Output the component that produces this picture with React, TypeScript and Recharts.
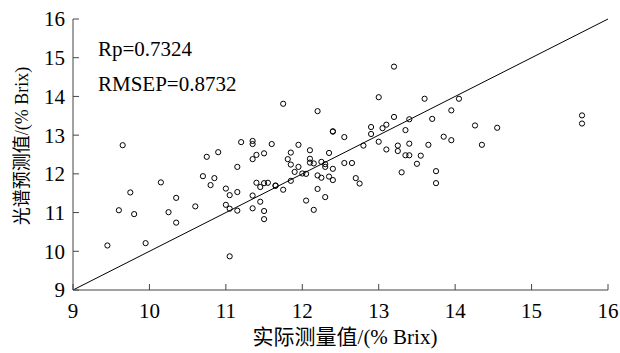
import React from 'react';
import { ScatterChart, Scatter, XAxis, YAxis, ReferenceLine } from 'recharts';

const measured: number[] = [
  9.65, 9.45, 9.6, 9.75, 9.8, 9.95, 10.15, 10.25, 10.35, 10.35,
  10.6, 10.7, 10.75, 10.8, 10.85, 10.9, 11.0, 11.0, 11.05, 11.05,
  11.05, 11.15, 11.15, 11.15, 11.2, 11.35, 11.35, 11.35, 11.4, 11.35,
  11.4, 11.35, 11.45, 11.45, 11.6, 11.95, 11.5, 11.85, 12.1, 12.35,
  12.8, 13.0, 13.1, 13.25, 13.25, 13.4, 13.65, 13.35, 13.4, 13.55,
  13.5, 13.3, 13.75, 13.75, 11.81, 11.85, 11.95, 11.9, 12.0, 12.05,
  12.1, 12.1, 12.15, 12.25, 12.3, 12.3, 12.4, 12.55, 12.65, 12.2,
  12.25, 12.35, 12.4, 12.7, 12.75, 11.5, 11.55, 11.65, 11.65, 11.75,
  11.85, 12.2, 11.5, 11.5, 12.05, 12.15, 12.3, 11.75, 12.2, 12.4,
  12.4, 12.55, 12.9, 12.9, 13.0, 13.05, 13.1, 13.2, 13.2, 13.35,
  13.4, 13.6, 13.7, 14.05, 13.95, 14.26, 14.55, 15.66, 15.66, 13.85,
  13.95, 14.35,
];

const predicted: number[] = [
  12.74, 10.15, 11.06, 11.52, 10.96, 10.21, 11.78, 11.01, 11.38, 10.74,
  11.16, 11.94, 12.44, 11.71, 11.89, 12.56, 11.62, 11.2, 11.45, 11.1,
  9.87, 12.18, 11.53, 11.05, 12.82, 12.85, 12.77, 12.38, 12.49, 11.44,
  11.77, 11.11, 11.66, 11.28, 12.77, 12.75, 12.53, 12.55, 12.61, 12.54,
  12.73, 12.83, 12.63, 12.73, 12.59, 12.78, 12.75, 12.48, 12.48, 12.47,
  12.26, 12.04, 12.07, 11.76, 12.38, 12.24, 12.18, 12.05, 12.01, 12.0,
  12.39, 12.29, 12.27, 12.31, 12.25, 12.18, 12.13, 12.28, 12.28, 11.96,
  11.9, 11.93, 11.84, 11.89, 11.75, 11.76, 11.77, 11.69, 11.7, 11.59,
  11.82, 11.61, 11.04, 10.83, 11.31, 11.07, 11.4, 13.81, 13.62, 13.09,
  13.1, 12.95, 13.21, 13.03, 13.98, 13.18, 13.27, 14.77, 13.47, 13.13,
  13.41, 13.94, 13.42, 13.94, 13.64, 13.25, 13.19, 13.51, 13.3, 12.96,
  12.87, 12.75,
];

const axisTicks: number[] = [9, 10, 11, 12, 13, 14, 15, 16];
const xTitle = '实际测量值/(% Brix)';
const yTitle = '光谱预测值/(% Brix)';
const rpText = 'Rp=0.7324';
const rmsepText = 'RMSEP=0.8732';

const data = measured.map((m, i) => ({ x: m, y: predicted[i] }));

const FONT = '"Liberation Serif", "Times New Roman", "Noto Sans CJK SC", serif';
const AXIS_COLOR = '#444';
const TICK_LEN = 6;
const BOTTOM_MARGIN = 13;
const LEFT_MARGIN = 8;

const OpenCircle = (props: any) => {
  const { cx, cy } = props;
  if (cx == null || cy == null) return <g />;
  return <circle cx={cx} cy={cy} r={2.6} fill="none" stroke="#000" strokeWidth={1} />;
};

const BottomTick = (props: any) => {
  const { x, y, payload } = props;
  const axisY = y - BOTTOM_MARGIN;
  return (
    <g>
      <path d={`M${x},${axisY}V${axisY - TICK_LEN}`} stroke={AXIS_COLOR} strokeWidth={1} />
      <text x={x} y={y} dy="0.71em" textAnchor="middle" fontFamily={FONT} fontSize={21} fill="#000">
        {payload.value}
      </text>
    </g>
  );
};

const LeftTick = (props: any) => {
  const { x, y, payload } = props;
  const axisX = x + LEFT_MARGIN;
  return (
    <g>
      <path d={`M${axisX},${y}H${axisX + TICK_LEN}`} stroke={AXIS_COLOR} strokeWidth={1} />
      <text x={x} y={y} dy="0.355em" textAnchor="end" fontFamily={FONT} fontSize={21} fill="#000">
        {payload.value}
      </text>
    </g>
  );
};

const TopTick = (props: any) => {
  const { x, y } = props;
  return <path d={`M${x},${y}V${y + TICK_LEN}`} stroke={AXIS_COLOR} strokeWidth={1} />;
};

const RightTick = (props: any) => {
  const { x, y } = props;
  return <path d={`M${x},${y}H${x - TICK_LEN}`} stroke={AXIS_COLOR} strokeWidth={1} />;
};

export default function App() {
  return (
    <div style={{ position: 'absolute', left: 0, top: 0, width: 620, height: 353, background: '#fff' }}>
      <ScatterChart width={620} height={353} margin={{ top: 19, right: 12, bottom: 33, left: 13 }}>
        <XAxis
          type="number"
          dataKey="x"
          xAxisId="bottom"
          domain={[9, 16]}
          ticks={axisTicks}
          allowDataOverflow
          height={30}
          tickSize={0}
          tickMargin={BOTTOM_MARGIN}
          tick={BottomTick}
          tickLine={false}
          axisLine={{ stroke: AXIS_COLOR }}
        />
        <XAxis
          type="number"
          dataKey="x"
          xAxisId="top"
          orientation="top"
          domain={[9, 16]}
          ticks={axisTicks}
          allowDataOverflow
          height={0}
          tickSize={0}
          tickMargin={0}
          tick={TopTick}
          tickLine={false}
          axisLine={{ stroke: AXIS_COLOR }}
        />
        <YAxis
          type="number"
          dataKey="y"
          yAxisId="left"
          domain={[9, 16]}
          ticks={axisTicks}
          allowDataOverflow
          width={60}
          tickSize={0}
          tickMargin={LEFT_MARGIN}
          tick={LeftTick}
          tickLine={false}
          axisLine={{ stroke: AXIS_COLOR }}
        />
        <YAxis
          type="number"
          dataKey="y"
          yAxisId="right"
          orientation="right"
          domain={[9, 16]}
          ticks={axisTicks}
          allowDataOverflow
          width={0}
          tickSize={0}
          tickMargin={0}
          tick={RightTick}
          tickLine={false}
          axisLine={{ stroke: AXIS_COLOR }}
        />
        <ReferenceLine
          xAxisId="bottom"
          yAxisId="left"
          segment={[{ x: 9, y: 9 }, { x: 16, y: 16 }]}
          stroke="#000"
          strokeWidth={1}
          ifOverflow="visible"
        />
        <Scatter
          data={data}
          xAxisId="bottom"
          yAxisId="left"
          shape={OpenCircle}
          isAnimationActive={false}
        />
      </ScatterChart>
      <svg
        width={620}
        height={353}
        style={{ position: 'absolute', left: 0, top: 0, pointerEvents: 'none' }}
      >
        <text x={98} y={56} fontFamily={FONT} fontSize={21} fill="#000">{rpText}</text>
        <text x={98} y={91} fontFamily={FONT} fontSize={21} fill="#000">{rmsepText}</text>
        <text x={345} y={344} textAnchor="middle" fontFamily={FONT} fontSize={21} fill="#000">{xTitle}</text>
        <text
          x={0}
          y={0}
          transform="translate(28,146) rotate(-90)"
          textAnchor="middle"
          fontFamily={FONT}
          fontSize={18}
          fill="#000"
        >
          {yTitle}
        </text>
      </svg>
    </div>
  );
}
